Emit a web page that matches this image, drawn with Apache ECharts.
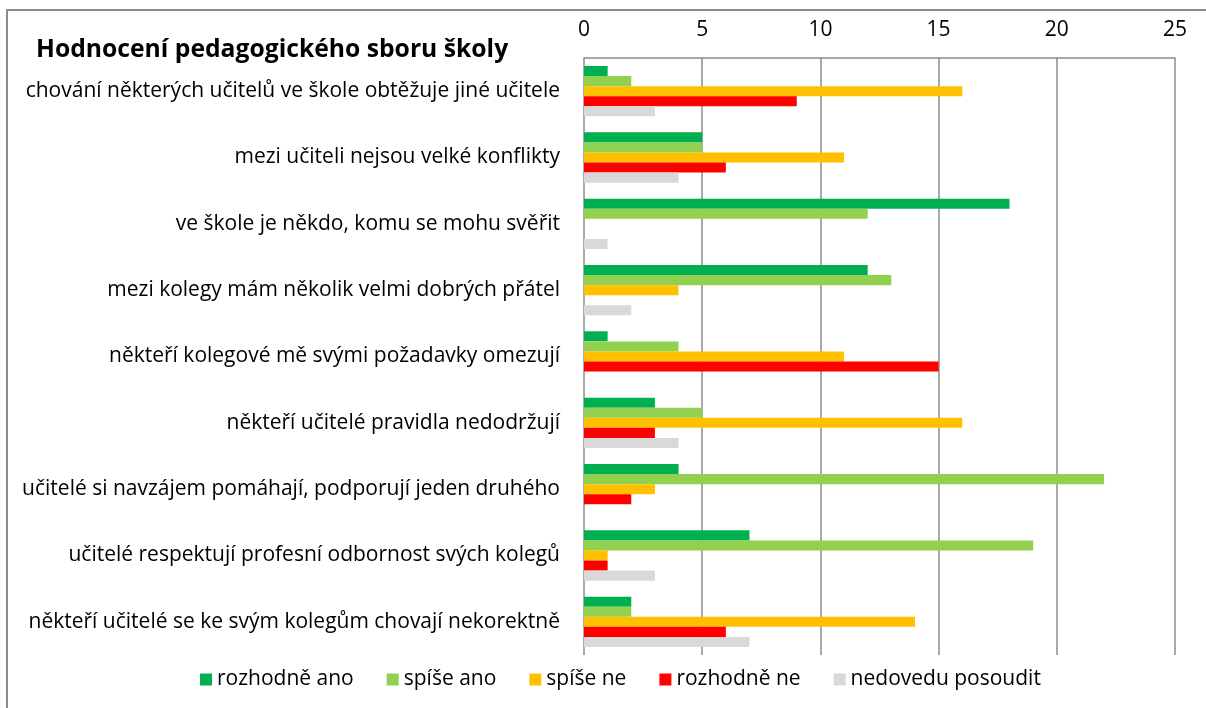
<!DOCTYPE html>
<html>
<head>
<meta charset="utf-8">
<script src="https://cdn.jsdelivr.net/npm/echarts@6/dist/echarts.min.js"></script>
<style>
  html, body { margin: 0; padding: 0; background: #fff; }
  #chart { width: 1206px; height: 708px; }
</style>
</head>
<body>
<div id="chart"></div>
<script>
const categories = [
  "chování některých učitelů ve škole obtěžuje jiné učitele",
  "mezi učiteli nejsou velké konflikty",
  "ve škole je někdo, komu se mohu svěřit",
  "mezi kolegy mám několik velmi dobrých přátel",
  "někteří kolegové mě svými požadavky omezují",
  "někteří učitelé pravidla nedodržují",
  "učitelé si navzájem pomáhají, podporují jeden druhého",
  "učitelé respektují profesní odbornost svých kolegů",
  "někteří učitelé se ke svým kolegům chovají nekorektně"
];

const seriesNames = ["rozhodně ano", "spíše ano", "spíše ne", "rozhodně ne", "nedovedu posoudit"];
const seriesColors = ["#00B050", "#92D050", "#FFC000", "#FF0000", "#D9D9D9"];

const rozhodneAno = [1, 5, 18, 12, 1, 3, 4, 7, 2];
const spiseAno = [2, 5, 12, 13, 4, 5, 22, 19, 2];
const spiseNe = [16, 11, 0, 4, 11, 16, 3, 1, 14];
const rozhodneNe = [9, 6, 0, 0, 15, 3, 2, 1, 6];
const nedovedu = [3, 4, 1, 2, 0, 4, 0, 3, 7];

const values = [rozhodneAno, spiseAno, spiseNe, rozhodneNe, nedovedu];

const FONT = "'Open Sans', sans-serif";

const chart = echarts.init(document.getElementById("chart"));

chart.setOption({
  animation: false,
  textStyle: { fontFamily: FONT },
  title: {
    text: "Hodnocení pedagogického sboru školy",
    left: 31,
    top: 32,
    textStyle: { fontFamily: FONT, fontSize: 24.7, fontWeight: "bold", color: "#000" }
  },
  legend: {
    bottom: 13,
    left: 195,
    itemWidth: 12,
    itemHeight: 12,
    itemGap: 33,
    icon: "rect",
    textStyle: { fontFamily: FONT, fontSize: 21, color: "#000" },
    data: seriesNames
  },
  graphic: [{
    type: "polyline",
    shape: { points: [[7, 708], [7, 10], [1206, 10]] },
    style: { stroke: "#8c8c8c", lineWidth: 2, fill: null },
    silent: true
  }],
  grid: { left: 584, right: 31, top: 58, bottom: 53 },
  xAxis: {
    type: "value",
    position: "top",
    min: 0,
    max: 25,
    interval: 5,
    axisLine: { show: true, lineStyle: { color: "#8c8c8c", width: 1.5 } },
    axisTick: { show: false },
    axisLabel: { margin: 17, fontFamily: FONT, fontSize: 21, color: "#000" },
    splitLine: { show: true, lineStyle: { color: "#8c8c8c", width: 1.5 } }
  },
  yAxis: {
    type: "category",
    inverse: true,
    data: categories,
    axisLine: { show: false },
    axisTick: { show: false },
    axisLabel: { margin: 24, fontFamily: FONT, fontSize: 21, color: "#000" }
  },
  series: seriesNames.map((name, i) => ({
    name: name,
    type: "bar",
    barGap: "0%",
    barCategoryGap: "24%",
    itemStyle: { color: seriesColors[i] },
    emphasis: { disabled: true },
    data: values[i]
  }))
});
</script>
</body>
</html>
